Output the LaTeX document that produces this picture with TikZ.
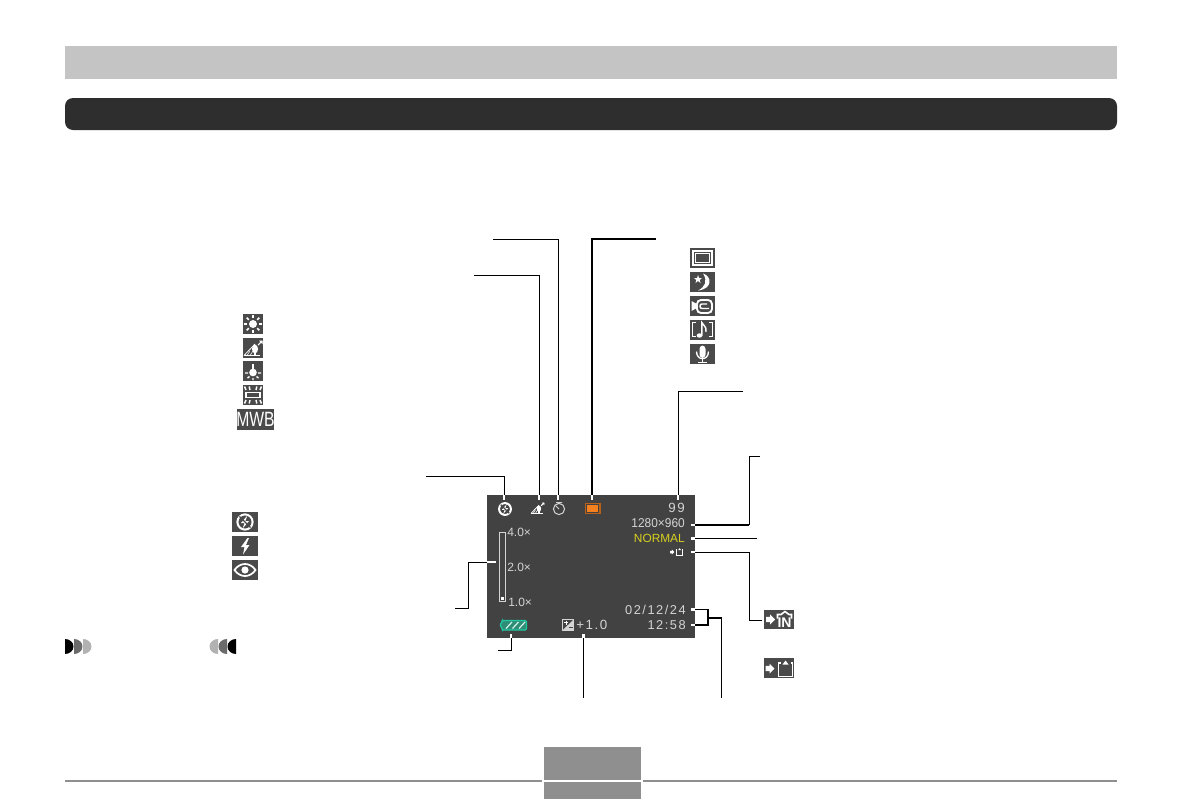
\documentclass[tikz,border=0pt]{standalone}
\usepackage{fontspec}
\setmainfont{Liberation Sans}
\newfontfamily\lcdwide[LetterSpace=12]{Liberation Sans}
\definecolor{bandgray}{HTML}{C4C4C4}
\definecolor{bardark}{HTML}{2E2E2E}
\definecolor{footgray}{HTML}{8F8F8F}
\definecolor{lcdgray}{HTML}{424242}
\definecolor{icongray}{HTML}{4A4A4A}
\definecolor{lcdtext}{HTML}{D4D4D4}
\definecolor{lcdyellow}{HTML}{D8D020}
\definecolor{lcdorange}{HTML}{F58020}
\definecolor{lcdteal}{HTML}{20C8A0}
\tikzset{
  lead/.style={black,line width=.75pt},
  leadthick/.style={black,line width=1.4pt},
  stub/.style={white,line width=2.2pt},
  lcdlabel/.style={text=lcdtext,anchor=east,inner sep=0pt,font=\fontsize{9.6}{9}\selectfont},
  iconbox/.style={fill=icongray,draw=none},
  iconsun/.pic={
    \fill[white] (0,0) circle (4);
    \foreach \a in {0,45,...,315}
      \draw[white,line width=1.3pt] (\a:6)--(\a:9);
  },
  iconshade/.pic={
    \draw[white,line width=.6pt] (-9,7.5)--(7,7.5);
    \draw[white,line width=.6pt] (-9,7.5)--(2,-4);
    \foreach \a in {-6,-3}
      \draw[white,line width=.4pt] (\a,7.5)--(\a+3,3);
    \fill[white] (2,1) ellipse (3 and 4.4);
    \draw[white,line width=1pt] (2,4)--(2,7.5);
    \draw[white,line width=.8pt] (5,-3)--(9,-7);
    \fill[white] (9.5,-7.5)--(6,-7.5)--(9.5,-4)--cycle;
  },
  iconflashoff/.pic={
    \draw[white,line width=1.5pt] (0,0) circle (7.6);
    \fill[white] (2.4,-6.5)--(-4,1)--(-.4,1)--(-2.4,6.5)--(4,-1)--(.4,-1)--cycle;
    \draw[icongray,line width=1pt] (-5.6,-5.6)--(5.6,5.6);
  },
  iconcard/.pic={
    \fill[white] (0,-2.6)--(4,-2.6)--(4,-5)--(9,0)--(4,5)--(4,2.6)--(0,2.6)--cycle;
    \draw[white] (15,-5.5)--(13,-5.5)--(13,8)--(27,8)--(27,-5.5)--(25,-5.5);
    \fill[white] (17,-4)--(20,-8)--(23,-4)--cycle;
  }
}
\begin{document}
\begin{tikzpicture}[x=.75pt,y=-.75pt,font=\footnotesize]
\useasboundingbox (0,0) rectangle (1183,800);
\fill[bandgray] (65,46) rectangle (1117,79);
\fill[bardark,rounded corners=6pt] (65,98) rectangle (1117,130);
\draw[footgray,line width=1.5pt] (65,781)--(1117,781);
\fill[footgray] (544,747) rectangle (641,799);
\draw[white,line width=1.5pt] (542,781)--(643,781);
\fill[lcdgray] (487,495) rectangle (695,638);
\coordinate (flashStub) at (504,495);
\coordinate (flashEnd) at (426,476);
\coordinate (macroStub) at (539,495);
\coordinate (macroEnd) at (474,275);
\coordinate (timerStub) at (558,495);
\coordinate (timerEnd) at (493,239);
\coordinate (modeStub) at (592,495);
\coordinate (modeEnd) at (656,239);
\coordinate (countStub) at (678,495);
\coordinate (countEnd) at (743,391);
\coordinate (sizeStub) at (695,525);
\coordinate (sizeEnd) at (760,456);
\coordinate (qualityStub) at (695,538.5);
\coordinate (qualityEnd) at (757,538.5);
\coordinate (cardStub) at (695,552);
\coordinate (cardEnd) at (762,620);
\coordinate (dateStub) at (695,609.5);
\coordinate (timeStub) at (695,625);
\coordinate (clockEnd) at (721.5,698);
\coordinate (zoomStub) at (487,562);
\coordinate (zoomEnd) at (455,608);
\coordinate (batteryStub) at (511,638);
\coordinate (batteryEnd) at (498,650.5);
\coordinate (exposureStub) at (583.5,638);
\coordinate (exposureEnd) at (583.5,698);
\draw[lead] (flashEnd)-|(flashStub);
\draw[lead] (macroEnd)-|(macroStub);
\draw[lead] (timerEnd)-|(timerStub);
\draw[leadthick] (modeEnd)-|(modeStub);
\draw[lead] (countEnd)-|(countStub);
\draw[leadthick] (sizeStub)--++(54,0);
\draw[lead] (sizeEnd)-|(749,525);
\draw[lead] (qualityStub)--(qualityEnd);
\draw[lead] (cardStub)-|(749,620)--(cardEnd);
\draw[leadthick] (dateStub)-|(708,625)--(timeStub);
\draw[leadthick] (708,618)-|(clockEnd);
\draw[lead] (zoomStub)-|(468,608)--(zoomEnd);
\draw[lead] (batteryEnd)-|(batteryStub);
\draw[lead] (exposureStub)--(exposureEnd);
\foreach \p in {flashStub,macroStub,timerStub,modeStub,countStub}
  \draw[stub] (\p)--++(0,4.5);
\foreach \p in {sizeStub,qualityStub,cardStub,dateStub,timeStub}
  \draw[stub] (\p)--++(-4.5,0);
\draw[stub] (zoomStub)--++(9,0);
\foreach \p in {batteryStub,exposureStub}
  \draw[stub] (\p)--++(0,-4.5);
\node[lcdlabel,font=\fontsize{10}{9}\lcdwide] (count) at (685,508) {99};
\node[lcdlabel,xscale=.93,transform shape] (size) at (685,523.5) {1280×960};
\node[lcdlabel,text=lcdyellow,font=\fontsize{8.9}{9}\selectfont] (quality) at (685,538) {NORMAL};
\node[lcdlabel,font=\fontsize{9.6}{9}\lcdwide] (date) at (686,610) {02/12/24};
\node[lcdlabel,font=\fontsize{9.6}{9}\lcdwide] (clock) at (686,625) {12:58};
\node[lcdlabel,anchor=west,font=\fontsize{10}{9}\lcdwide] (exposure) at (576,624.5) {+1.0};
\node[lcdlabel,anchor=west,font=\fontsize{9}{9}\selectfont] (zoomHigh) at (507,532) {4.0×};
\node[lcdlabel,anchor=west,font=\fontsize{9}{9}\selectfont] (zoomMid) at (507,567) {2.0×};
\node[lcdlabel,anchor=west,font=\fontsize{9}{9}\selectfont] (zoomLow) at (508,602) {1.0×};
\pic[scale=.78] at (505,509) {iconflashoff};
\pic[scale=.72] at (537.5,508) {iconshade};
\draw[lcdtext,line width=.75pt] (559,509) circle (5.6);
\draw[lcdtext,line width=.75pt] (559,509)--(555.5,505.5) (556,502.5)--(562,502.5);
\fill[lcdorange!75!black] (585,503) rectangle (600.5,514);
\fill[lcdgray] (586.2,504.2) rectangle (599.3,512.8);
\fill[lcdorange] (587.3,505.3) rectangle (598.2,511.7);
\draw[lcdtext,line width=.75pt] (499.5,532) rectangle (505,601.5);
\fill[white] (501,596.5) rectangle (503.6,600);
\pic[scale=.48,line width=.75pt] at (670,552) {iconcard};
\draw[lcdteal,line width=.9pt,rounded corners=1pt,fill=lcdteal!55!lcdgray] (499.5,625)--(502,622.5)--(502,620.5)--(526.5,620.5)--(526.5,630)--(502,630)--(502,627.5)--cycle;
\foreach \i in {0,1,2}
  \draw[lcdteal!20!white,line width=.9pt] (506+\i*6.5,628.5)--(512+\i*6.5,622);
\fill[lcdtext] (562,619) rectangle (574,630.5);
\fill[lcdgray] (563,629.5)--(573,620)--(563,620)--cycle;
\draw[white,line width=.6pt] (564,622.5)--(568,622.5) (566,620.5)--(566,624.5);
\draw[lcdgray,line width=.6pt] (568.5,627.5)--(572.5,627.5);
\fill[iconbox] (690,248) rectangle (715,268);
\draw[white,line width=1.5pt] (693,251) rectangle (712,265);
\draw[white,line width=.6pt] (695.8,253.8) rectangle (709.2,262.2);
\fill[iconbox] (690,272) rectangle (715,292);
\fill[white] (703,273.5)..controls (712,276) and (713,289) ..(698,290.5)..controls (705,287) and (708,281) ..cycle;
\fill[white] (698,275)--(699,278)--(702,278)--(699.7,280)--(700.5,283)--(698,281)--(695.5,283)--(696.3,280)--(694,278)--(697,278)--cycle;
\fill[iconbox] (690,296) rectangle (715,316);
\draw[white,line width=1.4pt,rounded corners=3pt] (697,300)--(712,300)--(712,313)--(697,313)--cycle;
\draw[white,line width=1.1pt,rounded corners=1.5pt] (707,304)--(700,304)--(700,308.5)--(709,308.5);
\fill[white] (691.5,301)--(696,303.5)--(696,308.5)--(691.5,311)--cycle;
\fill[iconbox] (690,320) rectangle (715,340);
\draw[white,line width=1.2pt] (696,322.5)--(692.5,322.5)--(692.5,336.5)--(696,336.5);
\draw[white,line width=1.2pt] (709,322.5)--(712.5,322.5)--(712.5,336.5)--(709,336.5);
\fill[white] (699.5,335.5) ellipse (2.8 and 2.2);
\draw[white,line width=1.1pt] (701.8,335.5)--(701.8,322.5)..controls (703,326) and (707,326) ..(706,332);
\fill[iconbox] (690,344) rectangle (715,364);
\fill[white,rounded corners=2.5pt] (699.5,345.5) rectangle (705.5,358);
\draw[white,line width=1pt] (696.5,351.5)..controls (696.5,361) and (708.5,361) ..(708.5,351.5);
\draw[white,line width=1pt] (702.5,358)--(702.5,362) (698,362.5)--(707,362.5);
\fill[iconbox] (243,314) rectangle (263,334);
\pic at (253,324) {iconsun};
\fill[iconbox] (243,338) rectangle (263,358);
\pic at (253,348) {iconshade};
\fill[iconbox] (243,361) rectangle (263,381);
\fill[white] (253,372.5) circle (3.8);
\draw[white,line width=1.6pt] (253,364)--(253,371);
\draw[white,line width=1.1pt] (245,373)--(248,373) (258,373)--(261,373) (247.5,378)--(249.5,376.5) (256.5,376.5)--(258.5,378) (253,378)--(253,380);
\fill[iconbox] (243,385) rectangle (263,405);
\draw[white,line width=1.1pt] (246,392.5) rectangle (260,397.5);
\foreach \x/\d in {246/-1.5,250/-.8,256/.8,260/1.5}{
  \draw[white,line width=1.1pt] (\x,390)--(\x+\d,386.5);
  \draw[white,line width=1.1pt] (\x,400)--(\x+\d,403.5);
}
\fill[iconbox] (237,409) rectangle (274,430);
\node[xscale=.76,transform shape,text=white,inner sep=0pt,font=\fontsize{15.5}{15}\selectfont] (mwbLabel) at (255.5,419.5) {MWB};
\fill[iconbox] (232,512) rectangle (258,532);
\pic at (245,522) {iconflashoff};
\fill[iconbox] (232,536) rectangle (258,556);
\fill[white] (247.5,538)--(241,547)--(244.5,547)--(243,554.5)--(249.5,545)--(246,545)--(249,538)--cycle;
\fill[iconbox] (232,560) rectangle (258,580);
\draw[white,line width=1.3pt] (234.5,570)..controls (240,562) and (250,562) ..(255.5,570)..controls (250,578) and (240,578) ..cycle;
\fill[white] (245,570) circle (3.6);
\fill[iconbox] (764,610) rectangle (794,629);
\fill[white] (766,616.8)--(770,616.8)--(770,614.4)--(775,619.5)--(770,624.6)--(770,622.2)--(766,622.2)--cycle;
\draw[white,line width=1.2pt] (777.5,618.5)--(777.5,614.5)--(781,614.5)--(785,611.5)--(789,614.5)--(791.5,614.5)--(791.5,618.5);
\node[text=white,inner sep=0pt,font=\fontsize{10.5}{10}\selectfont\bfseries] (inLabel) at (784.5,623) {IN};
\fill[iconbox] (764,658) rectangle (794,678);
\pic[line width=1.2pt] at (765.5,668.5) {iconcard};
\foreach \i/\c in {0/black,1/black!58,2/black!30}{
  \fill[\c] (65+\i*9,654) arc (90:-90:8.5 and 7.5)--cycle;
}
\foreach \i/\c in {0/black!30,1/black!58,2/black}{
  \fill[\c] (218+\i*9,654) arc (90:270:8.5 and 7.5)--cycle;
}
\end{tikzpicture}
\end{document}
